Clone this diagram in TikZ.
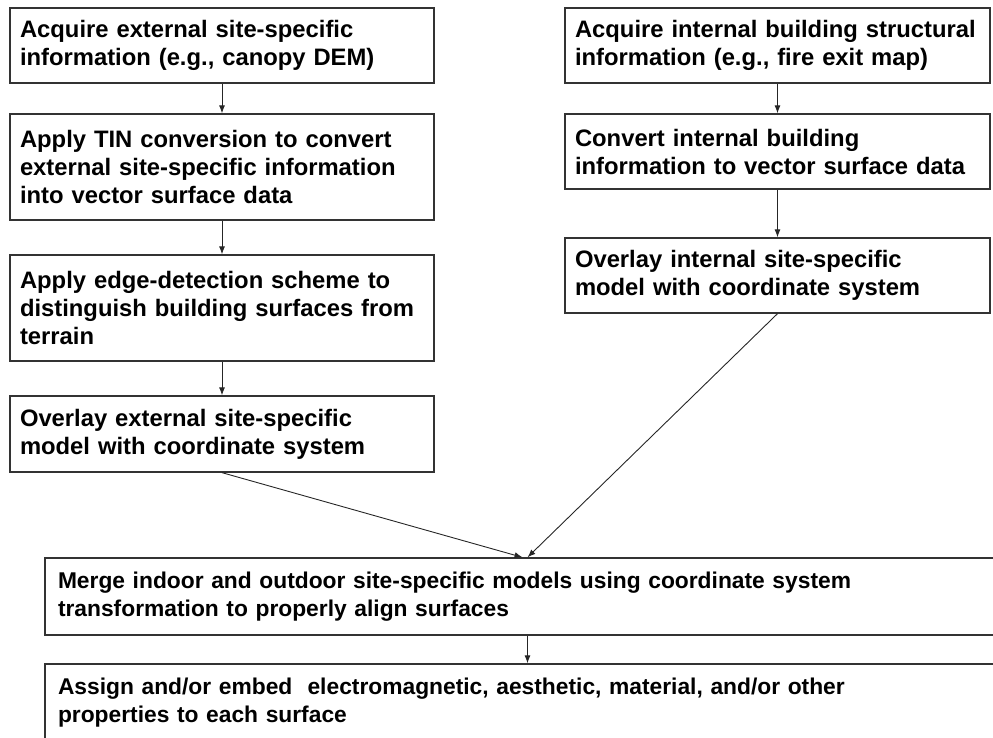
\documentclass[tikz,border=0pt]{standalone}
\usepackage{fontspec}
\setmainfont{Liberation Sans}
\usetikzlibrary{arrows.meta}

\begin{document}
\begin{tikzpicture}[x=1pt, y=-1pt,
  every node/.style={draw=black!80, line width=1.3pt, rectangle, align=left, inner xsep=10pt, inner ysep=0pt, font=\bfseries\fontsize{23.8}{28}\selectfont},
  widebox/.style={minimum width=965pt, minimum height=77pt, text width=939pt, inner xsep=13pt, font=\bfseries\fontsize{22.8}{28}\selectfont},
  flow/.style={draw=black!85, line width=0.9pt, -{Latex[length=8pt, width=6pt]}}]
\useasboundingbox (0,0) rectangle (993,738);
\clip (0,0) rectangle (993,738);
% external column
\node[minimum width=424pt, minimum height=75pt, text width=404pt] (E1) at (222,45.5) {Acquire external site-specific\\information (e.g., canopy DEM)};
\node[minimum width=424pt, minimum height=106pt, text width=404pt] (E2) at (222,167) {Apply TIN conversion to convert\\external site-specific information\\into vector surface data};
\node[minimum width=424pt, minimum height=106pt, text width=404pt] (E3) at (222,308) {Apply edge-detection scheme to\\distinguish building surfaces from\\terrain};
\node[minimum width=424pt, minimum height=76pt, text width=404pt] (E4) at (222,434) {Overlay external site-specific\\model with coordinate system};
% internal column
\node[minimum width=425pt, minimum height=75pt, text width=405pt] (I1) at (777.5,45.5) {Acquire internal building structural\\information (e.g., fire exit map)};
\node[minimum width=425pt, minimum height=75pt, text width=405pt] (I2) at (777.5,151.5) {Convert internal building\\information to vector surface data};
\node[minimum width=425pt, minimum height=75pt, text width=405pt] (I3) at (777.5,275.5) {Overlay internal site-specific\\model with coordinate system};
% merged steps
\node[widebox] (M1) at (527.5,596.5) {Merge indoor and outdoor site-specific models using coordinate system\\transformation to properly align surfaces};
\node[widebox] (M2) at (527.5,702.5) {Assign and/or embed~ electromagnetic, aesthetic, material, and/or other\\properties to each surface};
\draw[flow] (E1) -- (E2);
\draw[flow] (E2) -- (E3);
\draw[flow] (E3) -- (E4);
\draw[flow] (I1) -- (I2);
\draw[flow] (I2) -- (I3);
\draw[flow] (E4.south) -- ([xshift=-5pt]M1.north);
\draw[flow] (I3.south) -- (M1.north);
\draw[flow] (M1) -- (M2);
\end{tikzpicture}
\end{document}
